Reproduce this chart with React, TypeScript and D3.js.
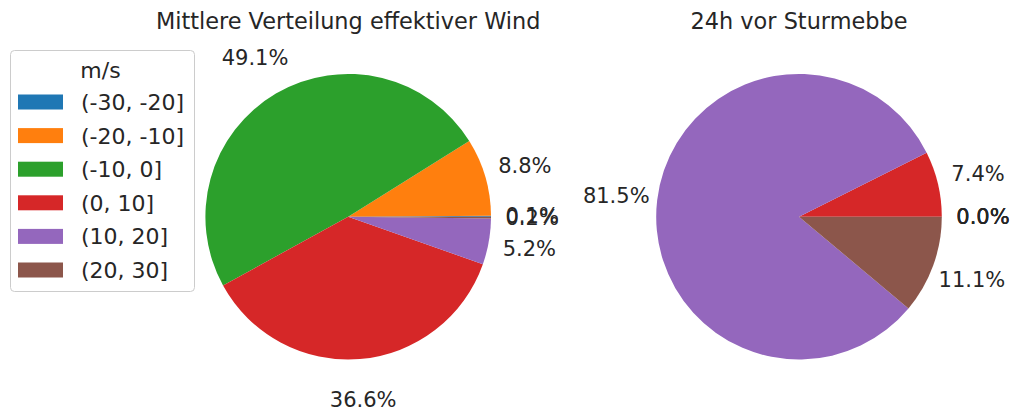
import React from "react";
import * as d3 from "d3";

const categories = ["(-30, -20]", "(-20, -10]", "(-10, 0]", "(0, 10]", "(10, 20]", "(20, 30]"];
const meanShares = [0.1, 8.8, 49.1, 36.6, 5.2, 0.2];
const stormShares = [0.0, 0.0, 0.0, 7.4, 81.5, 11.1];
const titles = ["Mittlere Verteilung effektiver Wind", "24h vor Sturmebbe"];
const legendTitle = "m/s";
const colors = ["#1f77b4", "#ff7f0e", "#2ca02c", "#d62728", "#9467bd", "#8c564b"];

const W = 1012;
const H = 410;
const FONT = "'DejaVu Sans', sans-serif";
const R = 142.8;
const CY = 216.7;
const centersX = [348.2, 799];
const labelFont = 21;
const labelDist = 184;

function Pie({ values, cx, title }: { values: number[]; cx: number; title: string }) {
  const pie = d3
    .pie<number>()
    .sort(null)
    .value((d) => d)
    .startAngle(Math.PI / 2)
    .endAngle(Math.PI / 2 - 2 * Math.PI);
  const arcs = pie(values);
  const arc = d3.arc<d3.PieArcDatum<number>>().innerRadius(0).outerRadius(R);
  const labelArc = d3
    .arc<d3.PieArcDatum<number>>()
    .innerRadius(labelDist)
    .outerRadius(labelDist);
  return (
    <g>
      <text x={cx} y={29} textAnchor="middle" fontSize={22.4} fill="#262626" fontFamily={FONT}>
        {title}
      </text>
      <g transform={`translate(${cx},${CY})`}>
        {arcs.map((a, i) => (
          <path key={i} d={arc(a) || ""} fill={colors[i]} />
        ))}
        {arcs.map((a, i) => {
          const [x, y] = labelArc.centroid(a);
          return (
            <text
              key={"t" + i}
              x={x}
              y={y}
              dy="0.34em"
              textAnchor="middle"
              fontSize={labelFont}
              fill="#262626"
              fontFamily={FONT}
            >
              {values[i].toFixed(1) + "%"}
            </text>
          );
        })}
      </g>
    </g>
  );
}

export default function App() {
  const legendY0 = 102;
  const legendStep = 33.6;
  return (
    <svg width={W} height={H} style={{ position: "absolute", left: 0, top: 0 }}>
      <rect x={0} y={0} width={W} height={H} fill="#ffffff" />
      <Pie values={meanShares} cx={centersX[0]} title={titles[0]} />
      <Pie values={stormShares} cx={centersX[1]} title={titles[1]} />
      <g>
        <rect x={10.5} y={50.5} width={184} height={241} rx={4} fill="#ffffff" fillOpacity={0.8} stroke="#cccccc" />
        <text x={100.5} y={70} dy="0.36em" textAnchor="middle" fontSize={22} fill="#262626" fontFamily={FONT}>
          {legendTitle}
        </text>
        {categories.map((c, i) => (
          <g key={c}>
            <rect x={18} y={legendY0 + i * legendStep - 7.5} width={45} height={15} fill={colors[i]} />
            <text
              x={81}
              y={legendY0 + i * legendStep}
              dy="0.36em"
              fontSize={22}
              fill="#262626"
              fontFamily={FONT}
            >
              {c}
            </text>
          </g>
        ))}
      </g>
    </svg>
  );
}
